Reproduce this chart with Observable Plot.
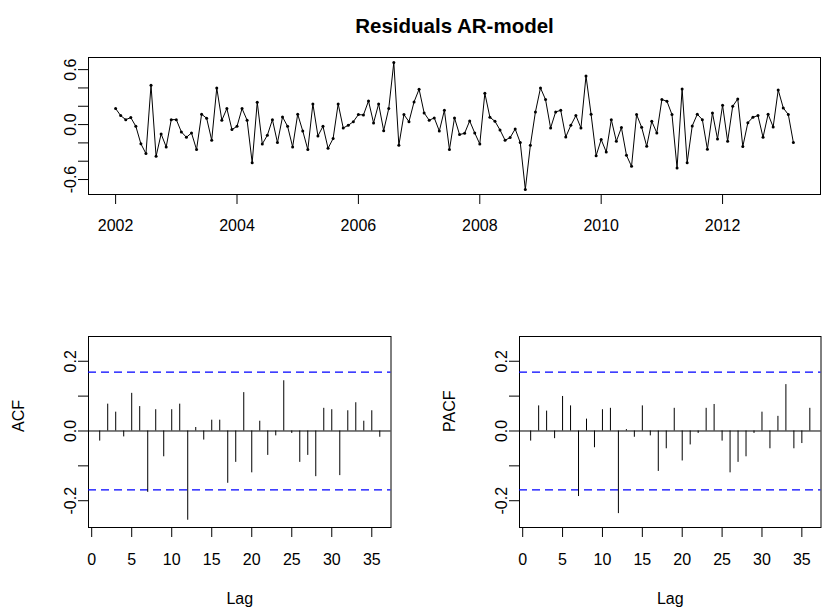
<!DOCTYPE html>
<html>
<head>
<meta charset="utf-8">
<script src="https://cdn.jsdelivr.net/npm/d3@7"></script>
<script src="https://cdn.jsdelivr.net/npm/@observablehq/plot@0.6"></script>
<style>
  html, body { margin: 0; padding: 0; background: #ffffff; }
  #wrap { position: relative; width: 823px; height: 612px; background: #ffffff; overflow: hidden; }
  #wrap svg { position: absolute; overflow: visible; }
</style>
</head>
<body>
<div id="wrap"></div>
<script>
// ---------- data ----------
const chartTitle = "Residuals AR-model";
const startYear = 2002;
const frequency = 12;
const residuals = [
  0.175, 0.098, 0.054, 0.076, -0.019, -0.21, -0.317, 0.429, -0.347, -0.102, -0.244, 0.054,
  0.054, -0.08, -0.139, -0.091, -0.273, 0.113, 0.069, -0.171, 0.40, 0.047, 0.175, -0.055,
  -0.019, 0.175, 0.047, -0.416, 0.244, -0.212, -0.117, 0.054, -0.197, 0.083, -0.019, -0.244,
  0.113, -0.07, -0.273, 0.226, -0.124, -0.019, -0.259, -0.153, 0.226, -0.037, -0.008, 0.032,
  0.109, 0.105, 0.258, 0.018, 0.226, -0.066, 0.175, 0.677, -0.226, 0.109, 0.032, 0.247,
  0.386, 0.127, 0.047, 0.073, -0.07, 0.156, -0.273, 0.073, -0.109, -0.095, 0.04, -0.091,
  -0.212, 0.342, 0.08, 0.036, -0.059, -0.171, -0.142, -0.048, -0.197, -0.708, -0.226, 0.138,
  0.40, 0.273, -0.037, 0.138, 0.156, -0.135, -0.008, 0.098, -0.037, 0.531, 0.113, -0.339,
  -0.164, -0.299, 0.054, -0.182, -0.033, -0.336, -0.456, 0.109, -0.03, -0.237, 0.036, -0.091,
  0.273, 0.255, 0.109, -0.474, 0.389, -0.416, -0.015, 0.113, 0.054, -0.270, 0.127, -0.157,
  0.211, -0.182, 0.20, 0.28, -0.24, 0.021, 0.08, 0.098, -0.139, 0.113, -0.026, 0.378,
  0.182, 0.109, -0.197
];
const acfValues = [
  -0.029, 0.077, 0.054, -0.017, 0.108, 0.070, -0.176, 0.061, -0.074, 0.061, 0.077, -0.256,
  0.010, -0.026, 0.031, 0.031, -0.150, -0.090, 0.110, -0.120, 0.028, -0.070, -0.014, 0.144,
  -0.007, -0.090, -0.070, -0.131, 0.065, 0.061, -0.128, 0.058, 0.081, 0.028, 0.058, -0.018
];
const pacfValues = [
  -0.029, 0.072, 0.057, -0.022, 0.099, 0.072, -0.188, 0.034, -0.048, 0.061, 0.065, -0.237,
  0.004, -0.018, 0.072, -0.014, -0.116, -0.051, 0.065, -0.086, -0.040, -0.007, 0.065, 0.076,
  -0.029, -0.120, -0.090, -0.074, -0.007, 0.054, -0.051, 0.042, 0.133, -0.051, -0.036, 0.065
];
const yearTicks = [2002, 2004, 2006, 2008, 2010, 2012];
const resTicks = [-0.6, -0.4, -0.2, 0, 0.2, 0.4, 0.6];
const resTickLabels = ["-0.6", "", "", "0.0", "", "", "0.6"];
const lagTicks = [0, 5, 10, 15, 20, 25, 30, 35];
const corrTicks = [-0.2, -0.1, 0, 0.1, 0.2];
const corrTickLabels = ["-0.2", "", "0.0", "", "0.2"];
const corrDomain = [-0.2768, 0.271];

// ---------- derived tables ----------
const series = residuals.map((v, i) => ({t: startYear + i / frequency, v}));
const acfRows = acfValues.map((v, i) => ({lag: i + 1, v}));
const pacfRows = pacfValues.map((v, i) => ({lag: i + 1, v}));
const ci = 1.96 / Math.sqrt(residuals.length);
const ciRows = [ci, -ci];

const pad = (lo, hi) => { const d = (hi - lo) * 0.04; return [lo - d, hi + d]; };
const tExt = d3.extent(series, d => d.t);
const vExt = d3.extent(residuals);

const baseStyle = {
  background: "transparent",
  fontFamily: "'Liberation Sans', Arial, sans-serif",
  fontSize: "16px",
  color: "#000000",
  overflow: "visible"
};
const wrap = document.getElementById("wrap");
function place(svg, left, topPx) {
  svg.style.left = left + "px";
  svg.style.top = topPx + "px";
  wrap.appendChild(svg);
}

// ---------- top: residual series ----------
const seriesPlot = Plot.plot({
  width: 823, height: 300,
  marginLeft: 88, marginRight: 3, marginTop: 57, marginBottom: 106,
  style: baseStyle,
  x: {domain: pad(tExt[0], tExt[1])},
  y: {domain: pad(vExt[0], vExt[1])},
  marks: [
    Plot.frame({stroke: "#000", strokeWidth: 1}),
    Plot.line(series, {x: "t", y: "v", stroke: "#000", strokeWidth: 1}),
    Plot.dot(series, {x: "t", y: "v", r: 1.5, fill: "#000", stroke: "none"}),
    Plot.axisX(yearTicks, {tickSize: 10, tickPadding: 15, tickFormat: d => String(d), label: null}),
    Plot.axisY(resTicks, {tickSize: 10, tickPadding: 3, tickRotate: -90,
      tickFormat: d => resTickLabels[resTicks.indexOf(d)], label: null}),
    Plot.text([chartTitle], {frameAnchor: "top", dy: -39, text: d => d,
      fontSize: 20.5, fontWeight: "bold", fill: "#000"})
  ]
});
place(seriesPlot, 0, 0);

// ---------- correlogram panels ----------
function correlogram(rows, name, width, marginLeft, marginRight) {
  return Plot.plot({
    width, height: 312,
    marginLeft, marginRight, marginTop: 36, marginBottom: 85,
    style: baseStyle,
    x: {domain: pad(1, rows.length)},
    y: {domain: corrDomain},
    marks: [
      Plot.frame({stroke: "#000", strokeWidth: 1}),
      Plot.ruleY([0], {stroke: "#000", strokeWidth: 1}),
      Plot.ruleY(ciRows, {y: d => d, stroke: "#0000ff", strokeWidth: 1.3, strokeDasharray: "8,5"}),
      Plot.ruleX(rows, {x: "lag", y1: 0, y2: "v", stroke: "#000", strokeWidth: 1}),
      Plot.axisX(lagTicks, {tickSize: 10, tickPadding: 16, tickFormat: d => String(d), label: null}),
      Plot.axisY(corrTicks, {tickSize: 10, tickPadding: 3, tickRotate: -90,
        tickFormat: d => corrTickLabels[corrTicks.indexOf(d)], label: null}),
      Plot.text(["Lag"], {frameAnchor: "bottom", dy: 76, text: d => d, fill: "#000"}),
      Plot.text([name], {frameAnchor: "left", dx: -70, rotate: -90, text: d => d, fill: "#000"})
    ]
  });
}
place(correlogram(acfRows, "ACF", 430, 88, 39.5), 0, 300);
place(correlogram(pacfRows, "PACF", 393, 89, 2.5), 430, 300);
</script>
</body>
</html>
